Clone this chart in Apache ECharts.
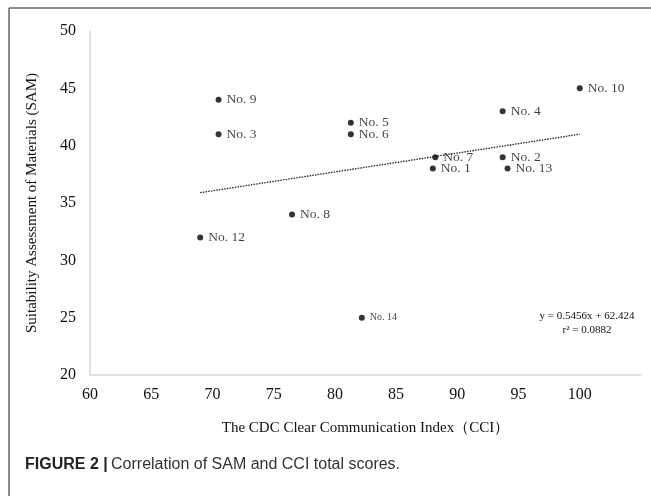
<!DOCTYPE html>
<html lang="en">
<head>
    <meta charset="utf-8" />
    <title>Correlation of SAM and CCI</title>
    <style>
        html, body { margin: 0; padding: 0; background: #fff; }
        #main { width: 651px; height: 496px; }
    </style>
</head>
<body>
    <div id="main"></div>
    <script src="https://cdn.jsdelivr.net/npm/echarts@6/dist/echarts.min.js"></script>
    <script>
    // 数据
    var names = ["No. 1", "No. 2", "No. 3", "No. 4", "No. 5", "No. 6", "No. 7", "No. 8", "No. 9", "No. 10", "No. 12", "No. 13", "No. 14"];
    var cci = [88, 93.7, 70.5, 93.7, 81.3, 81.3, 88.2, 76.5, 70.5, 100, 69, 94.1, 82.2];
    var sam = [38, 39, 41, 43, 42, 41, 39, 34, 44, 45, 32, 38, 25];
    var trendX = [69, 100];
    var trendY = [35.9, 41.0];
    var xTicks = [60, 65, 70, 75, 80, 85, 90, 95, 100];

    var serif = "'Liberation Serif', 'DejaVu Serif', serif";
    var points = [];
    for (var i = 0; i < names.length; i++) {
        points.push({
            value: [cci[i], sam[i]],
            name: names[i],
            label: names[i] == "No. 14" ? { fontSize: 10 } : {}
        });
    }
    var trend = [];
    for (var j = 0; j < trendX.length; j++) {
        trend.push([trendX[j], trendY[j]]);
    }

    var myChart = echarts.init(document.getElementById("main"));
    var option = {
        animation: false,
        grid: {
            left: 90,
            right: 10,
            top: 31,
            bottom: 121
        },
        xAxis: {
            type: "value",
            min: 60,
            max: 105,
            interval: 5,
            name: "The CDC Clear Communication Index（CCI）",
            nameLocation: "middle",
            nameGap: 46,
            nameTextStyle: {
                color: "#111",
                fontFamily: serif,
                fontSize: 15
            },
            axisLine: { show: true, lineStyle: { color: "#d9d9d9", width: 1.5 } },
            axisTick: { show: false },
            splitLine: { show: false },
            axisLabel: {
                margin: 12,
                color: "#111",
                fontFamily: serif,
                fontSize: 16,
                formatter: function(v) {
                    return xTicks.indexOf(v) >= 0 ? v : "";
                }
            }
        },
        yAxis: {
            type: "value",
            min: 20,
            max: 50,
            interval: 5,
            name: "Suitability Assessment of Materials (SAM)",
            nameLocation: "middle",
            nameGap: 50,
            nameTextStyle: {
                color: "#111",
                fontFamily: serif,
                fontSize: 15
            },
            axisLine: { show: true, lineStyle: { color: "#d9d9d9", width: 1.5 } },
            axisTick: { show: false },
            splitLine: { show: false },
            axisLabel: {
                margin: 14,
                color: "#111",
                fontFamily: serif,
                fontSize: 16
            }
        },
        series: [
            {
                name: "trend",
                type: "line",
                data: trend,
                symbol: "none",
                z: 1,
                lineStyle: { color: "#222", width: 1.3, type: [1.5, 1.2] }
            },
            {
                name: "SAM",
                type: "scatter",
                data: points,
                symbol: "circle",
                symbolSize: 6,
                z: 2,
                itemStyle: { color: "#000" },
                label: {
                    show: true,
                    position: "right",
                    distance: 5,
                    color: "#111",
                    fontFamily: serif,
                    fontSize: 13.5,
                    formatter: "{b}"
                }
            }
        ],
        graphic: [
            {
                type: "line",
                shape: { x1: 9, y1: 8, x2: 651, y2: 8 },
                style: { stroke: "#666", lineWidth: 1.5 }
            },
            {
                type: "line",
                shape: { x1: 9, y1: 8, x2: 9, y2: 496 },
                style: { stroke: "#666", lineWidth: 1.5 }
            },
            {
                type: "text",
                x: 587,
                y: 316,
                style: {
                    text: "y = 0.5456x + 62.424",
                    fill: "#111",
                    font: "11px " + serif,
                    textAlign: "center",
                    textVerticalAlign: "middle"
                }
            },
            {
                type: "text",
                x: 587,
                y: 330,
                style: {
                    text: "r² = 0.0882",
                    fill: "#111",
                    font: "11px " + serif,
                    textAlign: "center",
                    textVerticalAlign: "middle"
                }
            },
            {
                type: "text",
                x: 25,
                y: 465,
                style: {
                    text: "{b|FIGURE 2 |} {n|Correlation of SAM and CCI total scores.}",
                    textVerticalAlign: "middle",
                    rich: {
                        b: { fontFamily: "'Liberation Sans', Arial, sans-serif", fontWeight: "bold", fontSize: 16, fill: "#222", color: "#222" },
                        n: { fontFamily: "'Liberation Sans', Arial, sans-serif", fontSize: 16, fill: "#333", color: "#333" }
                    }
                }
            }
        ]
    };
    myChart.setOption(option);
    </script>
</body>
</html>
